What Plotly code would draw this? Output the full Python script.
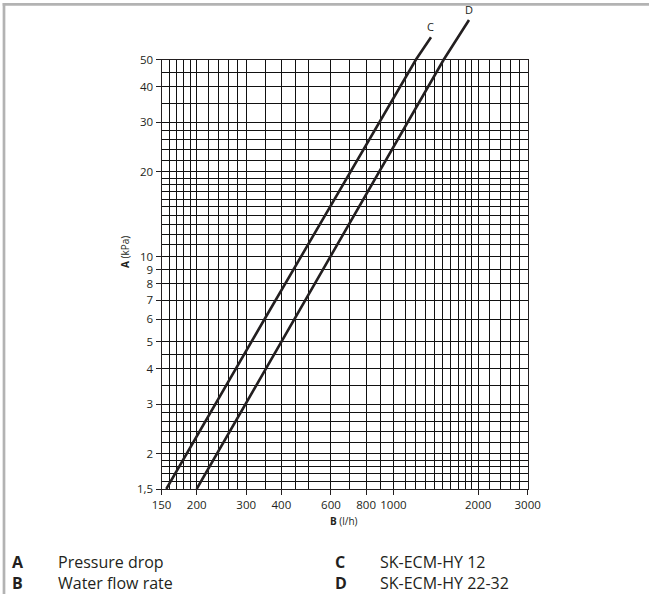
import math
import plotly.graph_objects as go

W, H = 649, 594

# ---- data ----
c_flow = [156, 345, 1203, 1360]
c_dp = [1.5, 5.9, 50, 60]
d_flow = [200, 465, 1510, 1856]
d_dp = [1.5, 6.5, 50, 69]

x_ticks = [150, 200, 300, 400, 600, 800, 1000, 2000, 3000]
x_tick_text = ["150", "200", "300", "400", "600", "800", "1000", "2000", "3000"]
y_ticks = [1.5, 2, 3, 4, 5, 6, 7, 8, 9, 10, 20, 30, 40, 50]
y_tick_text = ["1,5", "2", "3", "4", "5", "6", "7", "8", "9", "10", "20", "30", "40", "50"]

x_grid = ([150, 160, 170, 180, 190, 200, 220, 240, 260, 280, 300, 350, 400, 450, 500]
          + list(range(600, 2100, 100)) + [2200, 2400, 2600, 2800, 3000])
y_grid = ([1.5, 1.6, 1.7, 1.8, 1.9, 2, 2.2, 2.4, 2.6, 2.8, 3, 3.5, 4, 4.5, 5, 6, 7, 8, 9]
          + list(range(10, 20)) + [20, 22, 24, 26, 28, 30, 35, 40, 45, 50])

legend_keys_1 = ["A", "B"]
legend_text_1 = ["Pressure drop", "Water flow rate"]
legend_keys_2 = ["C", "D"]
legend_text_2 = ["SK-ECM-HY 12", "SK-ECM-HY 22-32"]

x_lo, x_hi = 150, 3000
y_lo, y_hi = 1.5, 50

# ---- layout geometry (pixels) ----
L, R, T, B = 161.5, 527.7, 59.5, 489.0
T2 = 8.0
xd = [L / W, R / W]
yd = [1 - B / H, 1 - T / H]
yd2 = [1 - B / H, 1 - T2 / H]
ppd = (B - T) / (math.log10(y_hi) - math.log10(y_lo))
y2_top = math.log10(y_hi) + (T - T2) / ppd

INK = "#231f20"
GRID = "#111111"
FONT = "Open Sans"

fig = go.Figure()
# anchor trace for the grid subplot (no visible marks)
fig.add_trace(go.Scatter(x=[], y=[], xaxis="x", yaxis="y", showlegend=False))
fig.add_trace(go.Scatter(x=c_flow, y=c_dp, mode="lines", xaxis="x2", yaxis="y2",
                         line=dict(color=INK, width=2.6), showlegend=False, name="C"))
fig.add_trace(go.Scatter(x=d_flow, y=d_dp, mode="lines", xaxis="x2", yaxis="y2",
                         line=dict(color=INK, width=2.6), showlegend=False, name="D"))

axis_font = dict(family=FONT, size=11.5, color=INK)

fig.update_layout(
    width=W, height=H,
    margin=dict(l=0, r=0, t=0, b=0),
    paper_bgcolor="white",
    plot_bgcolor="rgba(0,0,0,0)",
    template="none",
    font=dict(family=FONT, color=INK),
    xaxis=dict(type="log", domain=xd, anchor="y",
               range=[math.log10(x_lo), math.log10(x_hi)],
               tickmode="array", tickvals=x_ticks, ticktext=x_tick_text,
               ticks="outside", ticklen=5, tickcolor=INK, tickwidth=1,
               tickfont=axis_font,
               showgrid=True, gridcolor=GRID, gridwidth=1,
               showline=True, mirror=True, linecolor=INK, linewidth=1,
               zeroline=False,
               minor=dict(tickmode="array", tickvals=x_grid, showgrid=True,
                          gridcolor=GRID, gridwidth=1, ticks="")),
    yaxis=dict(type="log", domain=yd, anchor="x",
               range=[math.log10(y_lo), math.log10(y_hi)],
               tickmode="array", tickvals=y_ticks, ticktext=y_tick_text,
               ticks="outside", ticklen=5, tickcolor=INK, tickwidth=1,
               tickfont=axis_font,
               showgrid=True, gridcolor=GRID, gridwidth=1,
               showline=True, mirror=True, linecolor=INK, linewidth=1,
               zeroline=False,
               minor=dict(tickmode="array", tickvals=y_grid, showgrid=True,
                          gridcolor=GRID, gridwidth=1, ticks="")),
    xaxis2=dict(type="log", domain=xd, anchor="y2",
                range=[math.log10(x_lo), math.log10(x_hi)],
                visible=False, showgrid=False, zeroline=False),
    yaxis2=dict(type="log", domain=yd2, anchor="x2",
                range=[math.log10(y_lo), y2_top],
                visible=False, showgrid=False, zeroline=False),
)

annotations = [
    dict(text="C", x=math.log10(c_flow[-1]), y=math.log10(c_dp[-1]), xref="x2", yref="y2",
         xanchor="center", yanchor="bottom", yshift=1, showarrow=False,
         font=dict(family=FONT, size=11, color=INK)),
    dict(text="D", x=math.log10(d_flow[-1]), y=math.log10(d_dp[-1]), xref="x2", yref="y2",
         xanchor="center", yanchor="bottom", yshift=1, showarrow=False,
         font=dict(family=FONT, size=11, color=INK)),
    dict(text="<b>A</b> (kPa)", x=125 / W, y=1 - 252 / H, xref="paper", yref="paper",
         textangle=-90, showarrow=False, xanchor="center", yanchor="middle",
         font=dict(family=FONT, size=10, color=INK)),
    dict(text="<b>B</b> (l/h)", x=344 / W, y=1 - 521 / H, xref="paper", yref="paper",
         showarrow=False, xanchor="center", yanchor="middle",
         font=dict(family=FONT, size=10, color=INK)),
]

legend_cols = [
    (legend_keys_1, 10, True),
    (legend_text_1, 56, False),
    (legend_keys_2, 333, True),
    (legend_text_2, 378, False),
]
for items, xx, bold in legend_cols:
    lines = [f"<b>{t}</b>" if bold else t for t in items]
    annotations.append(dict(
        text="<br>".join(lines),
        x=xx / W, y=1 - 572 / H, xref="paper", yref="paper",
        xanchor="left", yanchor="middle", align="left", showarrow=False,
        font=dict(family=FONT, size=16, color=INK)))

fig.update_layout(annotations=annotations)

# frame lines (top and left)
fig.update_layout(shapes=[
    dict(type="line", xref="paper", yref="paper", x0=2.7 / W, x1=1, y0=1 - 4.3 / H, y1=1 - 4.3 / H,
         line=dict(color="#b3b3b3", width=2.7)),
    dict(type="line", xref="paper", yref="paper", x0=4.0 / W, x1=4.0 / W, y0=0, y1=1 - 3 / H,
         line=dict(color="#b3b3b3", width=2.7)),
])

fig.write_html("out.html",
               config={"displayModeBar": False},
               post_script="document.body.style.margin='0';document.body.style.overflow='hidden';")
